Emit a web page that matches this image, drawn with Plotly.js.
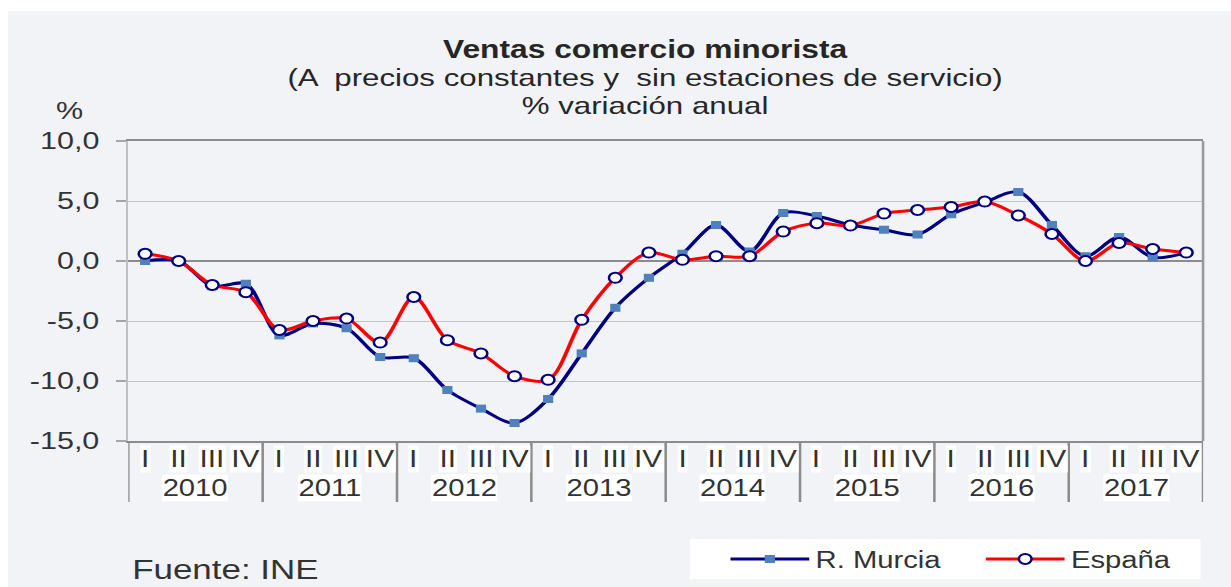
<!DOCTYPE html>
<html>
<head>
<meta charset="utf-8">
<script src="https://cdn.plot.ly/plotly-3.0.1.min.js"></script>
<style>
  html, body { margin: 0; padding: 0; background: #ffffff; overflow: hidden; }
  #wrap { width: 1231px; height: 587px; overflow: hidden; }
  #chart { width: 969px; height: 587px; transform: scaleX(1.2704); transform-origin: 0 0; }
</style>
</head>
<body>
<div id="wrap"><div id="chart"></div></div>
<script>
// ---- data ----
const years = ['2010', '2011', '2012', '2013', '2014', '2015', '2016', '2017'];
const quarterNames = ['I', 'II', 'III', 'IV'];
const murcia = [0.0, 0.0, -2.1, -1.9, -6.2, -5.2, -5.6, -8.0,
                -8.1, -10.75, -12.3, -13.5, -11.5, -7.7, -3.9, -1.4,
                0.6, 3.0, 0.8, 4.0, 3.75, 3.0, 2.6, 2.2,
                3.9, 4.9, 5.75, 3.0, 0.4, 2.0, 0.3, 0.7];
const espana = [0.6, 0.0, -2.0, -2.6, -5.75, -5.0, -4.8, -6.8,
                -3.0, -6.6, -7.7, -9.6, -9.9, -4.9, -1.4, 0.7,
                0.1, 0.4, 0.4, 2.45, 3.15, 2.95, 3.95, 4.25,
                4.5, 4.95, 3.8, 2.25, 0.0, 1.5, 1.0, 0.7];
const yTickVals = [-15, -10, -5, 0, 5, 10];
const yTickText = ['-15,0', '-10,0', '-5,0', '0,0', '5,0', '10,0'];
const seriesNames = ['R. Murcia', 'España'];

const xIdx = murcia.map((_, i) => i);
const txt = '#333333';
const font = 'Arial, "Liberation Sans", sans-serif';

// plot geometry (in unscaled Plotly px)
const W = 969, H = 587, ML = 101, MR = 22, MT = 141, MB = 146;
const PW = W - ML - MR, PH = H - MT - MB;
const px2paperX = (p) => (p - ML) / PW;
const px2paperY = (p) => (H - MB - p) / PH;

const traces = [
  {
    x: xIdx, y: murcia, name: seriesNames[0], type: 'scatter', mode: 'lines+markers',
    line: { color: '#000080', width: 3, shape: 'spline', smoothing: 0.9 },
    marker: { symbol: 'square', size: 8, color: '#4f81bd', line: { width: 0 } }
  },
  {
    x: xIdx, y: espana, name: seriesNames[1], type: 'scatter', mode: 'lines+markers',
    line: { color: '#ff0000', width: 3, shape: 'spline', smoothing: 0.9 },
    marker: { symbol: 'circle', size: 10, color: '#ffffff', line: { color: '#000080', width: 2 } }
  }
];

const annotations = [];
const shapes = [];
// panel background
shapes.push({ type: 'rect', xref: 'paper', yref: 'paper', layer: 'below',
  x0: px2paperX(6.3), x1: px2paperX(W + 10), y0: px2paperY(H + 10), y1: px2paperY(11),
  fillcolor: '#f2f3f7', line: { width: 0 } });
// legend box
shapes.push({ type: 'rect', xref: 'paper', yref: 'paper', layer: 'below',
  x0: px2paperX(543), x1: px2paperX(945), y0: px2paperY(579), y1: px2paperY(539),
  fillcolor: '#ffffff', line: { width: 0 } });
// right border of plot
shapes.push({ type: 'line', xref: 'paper', yref: 'paper', x0: 1, x1: 1, y0: 0, y1: 1,
  line: { color: '#9a9a9a', width: 2 } });

// quarter labels and year labels, separators
years.forEach((yr, yi) => {
  quarterNames.forEach((q, qi) => {
    annotations.push({ x: yi * 4 + qi, xref: 'x', y: px2paperY(459), yref: 'paper', text: q,
      showarrow: false, xanchor: 'center', yanchor: 'middle', bgcolor: '#ffffff', borderpad: 0,
      font: { family: font, size: 23.5, color: txt } });
  });
  annotations.push({ x: yi * 4 + 1.5, xref: 'x', y: px2paperY(488), yref: 'paper', text: yr,
    showarrow: false, xanchor: 'center', yanchor: 'middle', bgcolor: '#ffffff', borderpad: 0,
    font: { family: font, size: 23, color: txt } });
});
for (let k = 0; k <= years.length; k++) {
  shapes.push({ type: 'line', xref: 'x', yref: 'paper', x0: k * 4 - 0.5, x1: k * 4 - 0.5,
    y0: 0, y1: px2paperY(502), line: { color: '#8c8c8c', width: 2 } });
}
// % unit label
annotations.push({ x: px2paperX(54.5), xref: 'paper', y: px2paperY(110), yref: 'paper', text: '%',
  showarrow: false, xanchor: 'center', yanchor: 'middle', font: { family: font, size: 24, color: txt } });
// source
annotations.push({ x: px2paperX(102), xref: 'paper', y: px2paperY(569), yref: 'paper', text: 'Fuente: INE',
  showarrow: false, xanchor: 'left', yanchor: 'middle', font: { family: font, size: 27.5, color: txt } });

const layout = {
  width: W, height: H,
  margin: { l: ML, r: MR, t: MT, b: MB, autoexpand: false },
  paper_bgcolor: '#ffffff', plot_bgcolor: '#ffffff',
  separators: ',.',
  showlegend: true,
  title: {
    text: "<span style='font-size:25px'><b>Ventas comercio minorista</b></span><br>" +
          "<span style='font-size:24.6px'>(A  precios constantes y  sin estaciones de servicio)</span><br>" +
          "<span style='font-size:24.6px'>% variación anual</span>",
    font: { family: font, size: 21.5, color: '#262626' },
    x: 0.524, xref: 'container', xanchor: 'center',
    y: 1 - 58 / 587, yref: 'container', yanchor: 'top'
  },
  xaxis: {
    range: [-0.5, 31.5], showgrid: false, zeroline: false, showticklabels: false,
    ticks: '', showline: true, linecolor: '#8c8c8c', linewidth: 2, mirror: true, fixedrange: true
  },
  yaxis: {
    range: [-15, 10], tickvals: yTickVals, ticktext: yTickText,
    ticks: 'outside', ticklen: 8, tickcolor: '#a6a6a6', tickwidth: 2,
    ticklabelstandoff: 8,
    tickfont: { family: font, size: 24, color: txt },
    showgrid: true, gridcolor: '#c4c4c4', gridwidth: 1,
    zeroline: true, zerolinecolor: '#8c8c8c', zerolinewidth: 2,
    showline: true, linecolor: '#c0c0c0', linewidth: 2, fixedrange: true
  },
  legend: {
    orientation: 'h', x: px2paperX(570), xanchor: 'left', y: px2paperY(559), yanchor: 'middle',
    bgcolor: 'rgba(0,0,0,0)', borderwidth: 0, itemwidth: 62, entrywidth: 124,
    font: { family: font, size: 23, color: txt }, traceorder: 'normal'
  },
  shapes: shapes,
  annotations: annotations
};

Plotly.newPlot('chart', traces, layout, { displayModeBar: false, staticPlot: true });
</script>
</body>
</html>
